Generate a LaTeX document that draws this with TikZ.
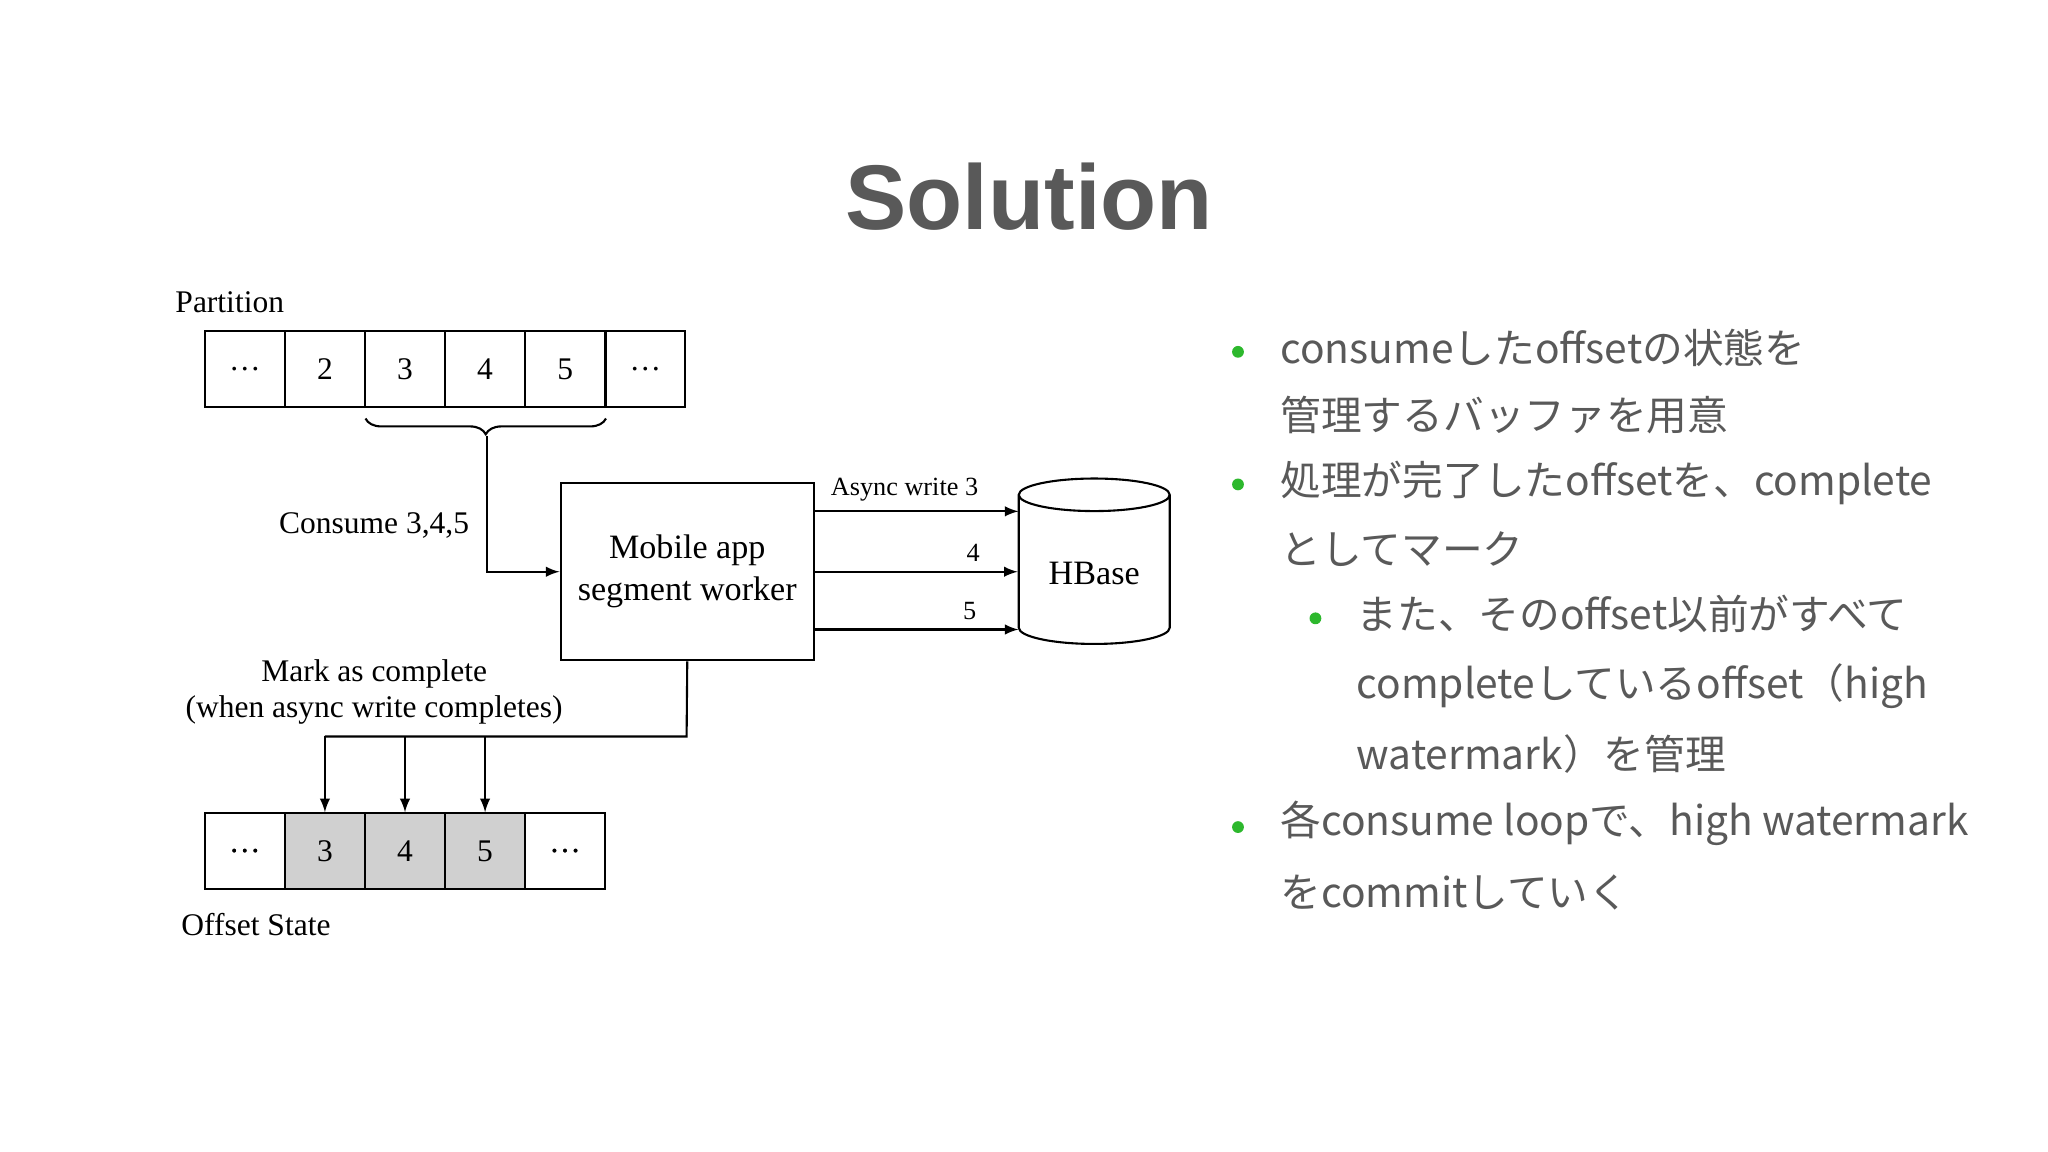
\documentclass[tikz,border=0pt]{standalone}
\usepackage{fontspec}
\setmainfont{Liberation Serif}
\newfontfamily\jp{Noto Sans CJK JP}
\newfontfamily\titlefont{Liberation Sans}
\usetikzlibrary{shapes.geometric,decorations.pathreplacing,calc}
\definecolor{textgray}{HTML}{595959}
\definecolor{bulletgreen}{HTML}{2DB82D}
\definecolor{cellgray}{HTML}{D0D0D0}
\tikzset{>={latex[scale=1.3]},
  cell/.style={draw,thick,minimum width=30.3pt,minimum height=29pt,inner sep=0pt,font=\fontsize{12}{14}\selectfont},
  lbl/.style={font=\fontsize{12}{14}\selectfont},
  small/.style={font=\fontsize{10}{12}\selectfont},
  jtxt/.style={anchor=west,text=textgray,font=\jp\fontsize{15.5}{19}\selectfont,inner sep=0pt},
  dot/.style={circle,fill=bulletgreen,inner sep=0pt,minimum size=4.5pt}
}
\begin{document}
\begin{tikzpicture}[x=0.5pt,y=-0.5pt]
  \useasboundingbox (0,0) rectangle (1560,877.5);
  % title
  \node[text=textgray,font=\titlefont\bfseries\fontsize{35}{42}\selectfont] (title) at (784,150) {Solution};
  % partition
  \node[lbl] (plabel) at (175,230) {Partition};
  \foreach \t [count=\i] in {\dots,2,3,4,5,\dots}
    \node[cell] (p\i) at (186.5+61*\i-61,281) {\t};
  \draw[thick,decorate,decoration={brace,mirror,amplitude=6pt}] ($(p3.south west)+(1,8)$) -- ($(p5.south east)+(0,8)$);
  \coordinate (btip) at (371,332);
  % worker
  \node[draw,thick,minimum width=96.5pt,minimum height=67.5pt,align=center,font=\fontsize{13}{16}\selectfont] (worker) at (523.5,435.5) {Mobile app\\segment worker};
  \draw[thick,->] (btip) |- (worker.west);
  \node[lbl] (consume) at (285,400) {Consume 3,4,5};
  % hbase
  \node[draw,thick,cylinder,shape border rotate=90,aspect=0.3,minimum width=57.5pt,minimum height=63pt,font=\fontsize{13}{16}\selectfont] (hbase) at (833.5,437) {HBase};
  \coordinate (w1) at ($(worker.east)+(0,-46)$);
  \coordinate (w3) at ($(worker.east)+(0,44)$);
  \draw[thick,->] (w1) -- ++(155,0) node[small,pos=0.44,above] {Async write 3};
  \draw[thick,->] (worker.east) -- (hbase.west |- worker.east) node[small,pos=0.78,above] {4};
  \draw[thick,->] (w3) -- ++(155,0) node[small,pos=0.76,above] {5};
  % offset state
  \foreach \t [count=\i] in {\dots,3,4,5,\dots}
    \node[cell] (s\i) at (186.5+61*\i-61,648.5) {\t};
  \foreach \i in {2,3,4} \fill[cellgray] ($(s\i.south west)+(1,-1)$) rectangle ($(s\i.north east)+(-1,1)$);
  \foreach \t [count=\i] in {\dots,3,4,5,\dots}
    \node[cell] at (s\i) {\t};
  \coordinate (turn) at (523,561);
  \draw[thick] (worker.south) -- (turn) -- (turn -| s2.north);
  \foreach \i in {2,3,4} \draw[thick,->] (turn -| s\i.north) -- (s\i.north);
  \node[lbl,align=center] (mark) at (285,527) {Mark as complete\\(when async write completes)};
  \node[lbl] (olabel) at (195,704) {Offset State};
  % bullets
  \foreach \y in {268,369,630} \node[dot] at (943,\y) {};
  \node[dot] at (1002,471) {};
  \node[jtxt] at (975,265) {consumeしたoffsetの状態を};
  \node[jtxt] at (975,316) {管理するバッファを用意};
  \node[jtxt] at (975,368) {処理が完了したoffsetを、complete};
  \node[jtxt] at (975,418) {としてマーク};
  \node[jtxt] at (1033,468) {また、そのoffset以前がすべて};
  \node[jtxt] at (1033,523) {completeしているoffset（high};
  \node[jtxt] at (1033,574) {watermark）を管理};
  \node[jtxt] at (975,627) {各consume loopで、high watermark};
  \node[jtxt] at (975,680) {をcommitしていく};
\end{tikzpicture}
\end{document}
